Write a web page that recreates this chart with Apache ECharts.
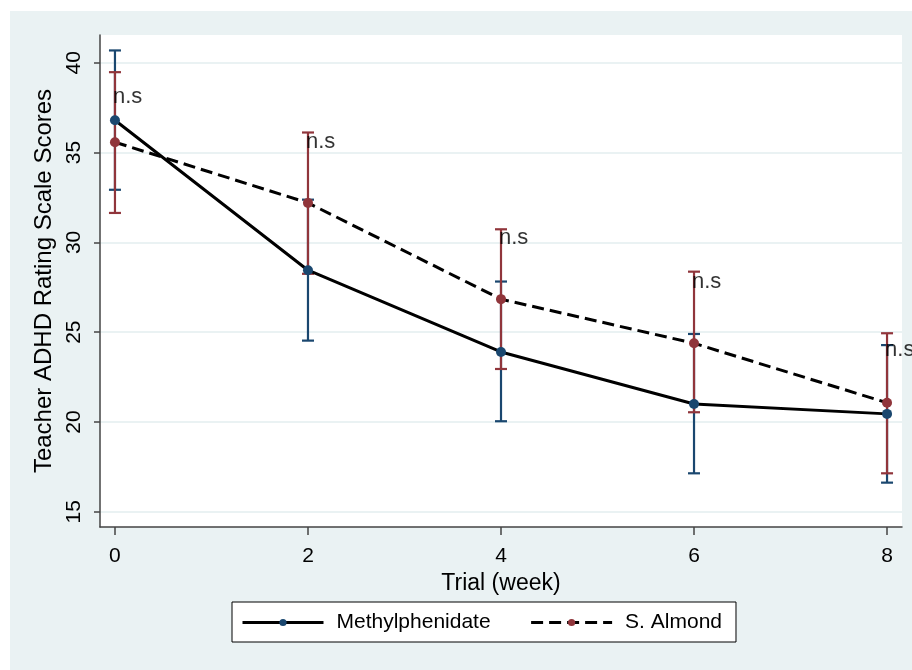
<!DOCTYPE html>
<html>
<head>
<meta charset="utf-8">
<script src="https://cdn.jsdelivr.net/npm/echarts@6/dist/echarts.min.js"></script>
<style>
html,body{margin:0;padding:0;background:#fff;}
#chart{width:912px;height:670px;}
</style>
</head>
<body>
<div id="chart"></div>
<script>
const weeks = [0, 2, 4, 6, 8];
const xTicks = [0, 2, 4, 6, 8];
const yTicks = [15, 20, 25, 30, 35, 40];

const methMean = [36.8, 28.45, 23.9, 21.0, 20.45];
const methLow  = [32.93, 24.53, 20.04, 17.14, 16.62];
const methHigh = [40.69, 32.38, 27.82, 24.9, 24.28];

const almMean = [35.58, 32.2, 26.84, 24.38, 21.07];
const almLow  = [31.64, 28.25, 22.95, 20.54, 17.14];
const almHigh = [39.48, 36.12, 30.73, 28.37, 24.94];

const nsLabelY = [38.1, 35.6, 30.25, 27.8, 24.0];
const nsText = 'n.s';

const NAVY = '#1a476f';
const MAROON = '#90353b';
const FONT = '"Liberation Sans", Arial, sans-serif';

function errData(low, high) {
  return weeks.map((w, i) => [w, low[i], high[i]]);
}
function meanData(m) {
  return weeks.map((w, i) => [w, m[i]]);
}
function errRender(color) {
  return function (params, api) {
    const x = api.value(0);
    const lo = api.coord([x, api.value(1)]);
    const hi = api.coord([x, api.value(2)]);
    const hw = 6;
    const style = { stroke: color, lineWidth: 2.2 };
    return {
      type: 'group',
      children: [
        { type: 'line', shape: { x1: lo[0], y1: lo[1], x2: hi[0], y2: hi[1] }, style },
        { type: 'line', shape: { x1: lo[0] - hw, y1: lo[1], x2: lo[0] + hw, y2: lo[1] }, style },
        { type: 'line', shape: { x1: hi[0] - hw, y1: hi[1], x2: hi[0] + hw, y2: hi[1] }, style }
      ]
    };
  };
}

const chart = echarts.init(document.getElementById('chart'), null, { renderer: 'canvas' });
chart.setOption({
  backgroundColor: '#ffffff',
  animation: false,
  textStyle: { fontFamily: FONT },
  graphic: [{
    type: 'rect', z: -10, silent: true,
    shape: { x: 10, y: 11, width: 902, height: 659 },
    style: { fill: '#eaf2f3' }
  }],
  grid: {
    left: 100, top: 35, right: 10, bottom: 143,
    show: true, backgroundColor: '#ffffff', borderWidth: 0
  },
  xAxis: {
    type: 'value', min: -0.155, max: 8.155,
    name: 'Trial (week)', nameLocation: 'middle', nameGap: 37,
    nameTextStyle: { color: '#000', fontSize: 23, fontFamily: FONT },
    axisLine: { onZero: false, lineStyle: { color: '#444', width: 1.5 } },
    axisTick: { show: true, length: 8, lineStyle: { color: '#444', width: 1.5 }, customValues: xTicks },
    axisLabel: { color: '#000', fontSize: 21, margin: 19, customValues: xTicks, fontFamily: FONT },
    splitLine: { show: false }
  },
  yAxis: {
    type: 'value', min: 14.15, max: 41.55,
    name: 'Teacher ADHD Rating Scale Scores', nameLocation: 'middle', nameGap: 41,
    nameTextStyle: { color: '#000', fontSize: 24, fontFamily: FONT },
    axisLine: { onZero: false, lineStyle: { color: '#444', width: 1.5 } },
    axisTick: { show: true, length: 6, lineStyle: { color: '#444', width: 1.5 }, customValues: yTicks },
    axisLabel: { color: '#000', fontSize: 21, rotate: 90, margin: 15, customValues: yTicks, fontFamily: FONT },
    splitLine: { show: true, lineStyle: { color: '#eaf2f3', width: 2 } }
  },
  legend: {
    data: ['Methylphenidate', 'S. Almond'],
    left: 232, top: 602,
    orient: 'horizontal',
    backgroundColor: '#ffffff',
    borderColor: '#000', borderWidth: 1,
    padding: [10, 14, 9, 9],
    itemWidth: 81, itemHeight: 9, itemGap: 39,
    lineStyle: { width: 3 },
    textStyle: { color: '#000', fontSize: 21, fontFamily: FONT, padding: [0, 0, 0, 8] }
  },
  series: [
    {
      name: 'methErr', type: 'custom', z: 2,
      renderItem: errRender(NAVY),
      data: errData(methLow, methHigh),
      encode: { x: 0, y: [1, 2] }
    },
    {
      name: 'almErr', type: 'custom', z: 3,
      renderItem: errRender(MAROON),
      data: errData(almLow, almHigh),
      encode: { x: 0, y: [1, 2] }
    },
    {
      name: 'Methylphenidate', type: 'line', z: 4,
      data: meanData(methMean),
      symbol: 'circle', symbolSize: 10,
      itemStyle: { color: NAVY },
      lineStyle: { color: '#000', width: 3, type: 'solid' }
    },
    {
      name: 'S. Almond', type: 'line', z: 4,
      data: meanData(almMean),
      symbol: 'circle', symbolSize: 10,
      itemStyle: { color: MAROON },
      lineStyle: { color: '#000', width: 3, type: [12, 6] }
    },
    {
      name: 'ns', type: 'scatter', z: 6,
      data: weeks.map((w, i) => [w, nsLabelY[i]]),
      symbolSize: 0,
      label: {
        show: true, position: 'right', distance: -2,
        formatter: nsText, color: '#000', fontSize: 22, fontFamily: FONT
      }
    }
  ]
});
</script>
</body>
</html>
